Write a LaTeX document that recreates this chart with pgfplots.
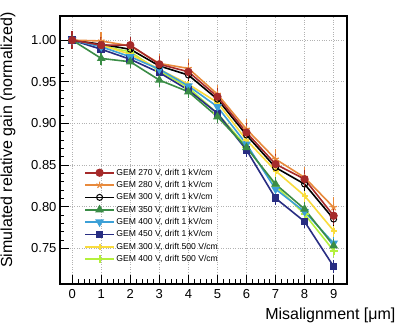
\documentclass[border=0pt]{standalone}
\usepackage{fontspec}
\setmainfont{Liberation Sans}
\usepackage{pgfplots}
\pgfplotsset{compat=1.18}

\definecolor{cRed}{RGB}{165,42,42}
\definecolor{cOrange}{RGB}{232,138,60}
\definecolor{cGreen}{RGB}{58,140,70}
\definecolor{cCyan}{RGB}{60,160,215}
\definecolor{cNavy}{RGB}{40,45,130}
\definecolor{cYellow}{RGB}{250,220,60}
\definecolor{cLime}{RGB}{180,240,60}

% x, y, error
\pgfplotstableread{
x y e
0 1.000 0.011
1 0.994 0.010
2 0.994 0.010
3 0.971 0.010
4 0.962 0.010
5 0.932 0.010
6 0.889 0.011
7 0.851 0.012
8 0.833 0.011
9 0.789 0.011
}\gemA
\pgfplotstableread{
x y e
0 1.000 0.011
1 0.999 0.011
2 0.993 0.011
3 0.972 0.011
4 0.966 0.011
5 0.935 0.011
6 0.893 0.012
7 0.857 0.012
8 0.835 0.012
9 0.799 0.012
}\gemB
\pgfplotstableread{
x y e
0 1.000 0.008
1 0.995 0.008
2 0.989 0.008
3 0.969 0.008
4 0.958 0.008
5 0.929 0.008
6 0.886 0.008
7 0.847 0.008
8 0.827 0.008
9 0.785 0.008
}\gemC
\pgfplotstableread{
x y e
0 1.000 0.008
1 0.978 0.008
2 0.974 0.008
3 0.952 0.008
4 0.938 0.008
5 0.908 0.008
6 0.871 0.008
7 0.827 0.008
8 0.797 0.008
9 0.753 0.008
}\gemD
\pgfplotstableread{
x y e
0 1.000 0.008
1 0.992 0.008
2 0.980 0.008
3 0.965 0.008
4 0.945 0.008
5 0.920 0.008
6 0.875 0.008
7 0.821 0.008
8 0.794 0.008
9 0.756 0.008
}\gemE
\pgfplotstableread{
x y e
0 1.000 0.008
1 0.989 0.008
2 0.977 0.008
3 0.961 0.008
4 0.940 0.008
5 0.912 0.008
6 0.868 0.008
7 0.810 0.008
8 0.782 0.008
9 0.728 0.008
}\gemF
\pgfplotstableread{
x y e
0 1.000 0.007
1 0.994 0.007
2 0.983 0.007
3 0.965 0.007
4 0.947 0.007
5 0.925 0.007
6 0.880 0.007
7 0.843 0.007
8 0.813 0.007
9 0.771 0.007
}\gemG
\pgfplotstableread{
x y e
0 1.000 0.007
1 0.993 0.007
2 0.986 0.007
3 0.963 0.007
4 0.943 0.007
5 0.912 0.007
6 0.872 0.007
7 0.825 0.007
8 0.791 0.007
9 0.747 0.007
}\gemH

\begin{document}
\begin{tikzpicture}
\useasboundingbox (-60pt,-44pt) rectangle (339pt,284pt);
\begin{axis}[
    at={(0,0)}, anchor=south west,
    scale only axis,
    width=287pt, height=268pt,
    xmin=-0.42, xmax=9.46,
    ymin=0.707, ymax=1.029,
    xtick={0,...,9},
    ytick={0.75,0.80,0.85,0.90,0.95,1.00},
    minor x tick num=4,
    minor y tick num=4,
    tick pos=left,
    tick align=inside,
    major tick length=9pt,
    minor tick length=4.5pt,
    axis line style={line width=1.2pt},
    tick style={black, line width=0.6pt},
    grid=major,
    major grid style={gray!60, dotted, line width=0.9pt},
    /pgf/number format/assume math mode=true,
    yticklabel style={/pgf/number format/.cd, fixed, fixed zerofill, precision=2},
    ticklabel style={font=\fontsize{13}{13}\selectfont},
    xticklabel style={yshift=-2pt},
    xlabel={Misalignment [μm]},
    ylabel={Simulated relative gain (normalized)},
    label style={font=\fontsize{16}{16}\selectfont},
    xlabel style={at={(rel axis cs:1,0)}, anchor=north east, xshift=52pt, yshift=-20pt},
    ylabel style={at={(rel axis cs:0,1)}, anchor=south east, rotate=0, xshift=7pt, yshift=41pt},
    legend style={at={(rel axis cs:0.084,0.436)}, anchor=north west, draw=none, fill=none,
        font=\fontsize{8.6}{10}\selectfont, row sep=1.6pt, inner sep=0pt,
        nodes={inner sep=1.5pt},
        /tikz/every even column/.append style={column sep=5pt}},
    legend cell align=left,
    reverse legend,
    legend image code/.code={
        \draw[mark repeat=2, mark phase=2, #1] plot coordinates {(0pt,0pt) (14.5pt,0pt) (29pt,0pt)};},
    every axis plot/.append style={line width=1.6pt},
    error bars/y dir=both,
    error bars/y explicit,
    error bars/error mark=none,
    error bars/error bar style={line width=1.5pt},
]
\addplot[cLime, mark=+, mark size=4pt, mark options={line width=2pt}] table[x=x, y=y, y error=e] {\gemH};
\addlegendentry{GEM 400 V, drift 500 V/cm}
\addplot[cYellow, mark=+, mark size=3pt, mark options={line width=2pt}] table[x=x, y=y, y error=e] {\gemG};
\addlegendentry{GEM 300 V, drift 500 V/cm}
\addplot[cNavy, mark=square*, mark size=3pt] table[x=x, y=y, y error=e] {\gemF};
\addlegendentry{GEM 450 V, drift 1 kV/cm}
\addplot[cCyan, mark=triangle*, mark size=3.5pt, mark options={rotate=180}] table[x=x, y=y, y error=e] {\gemE};
\addlegendentry{GEM 400 V, drift 1 kV/cm}
\addplot[cGreen, mark=triangle*, mark size=3.5pt] table[x=x, y=y, y error=e] {\gemD};
\addlegendentry{GEM 350 V, drift 1 kV/cm}
\addplot[black, mark=o, mark size=3pt, mark options={line width=1pt}] table[x=x, y=y, y error=e] {\gemC};
\addlegendentry{GEM 300 V, drift 1 kV/cm}
\addplot[cOrange, mark=star, mark size=3.5pt, mark options={line width=1.2pt}] table[x=x, y=y, y error=e] {\gemB};
\addlegendentry{GEM 280 V, drift 1 kV/cm}
\addplot[cRed, mark=*, mark size=3.3pt] table[x=x, y=y, y error=e] {\gemA};
\addlegendentry{GEM 270 V, drift 1 kV/cm}
\end{axis}
\end{tikzpicture}
\end{document}
